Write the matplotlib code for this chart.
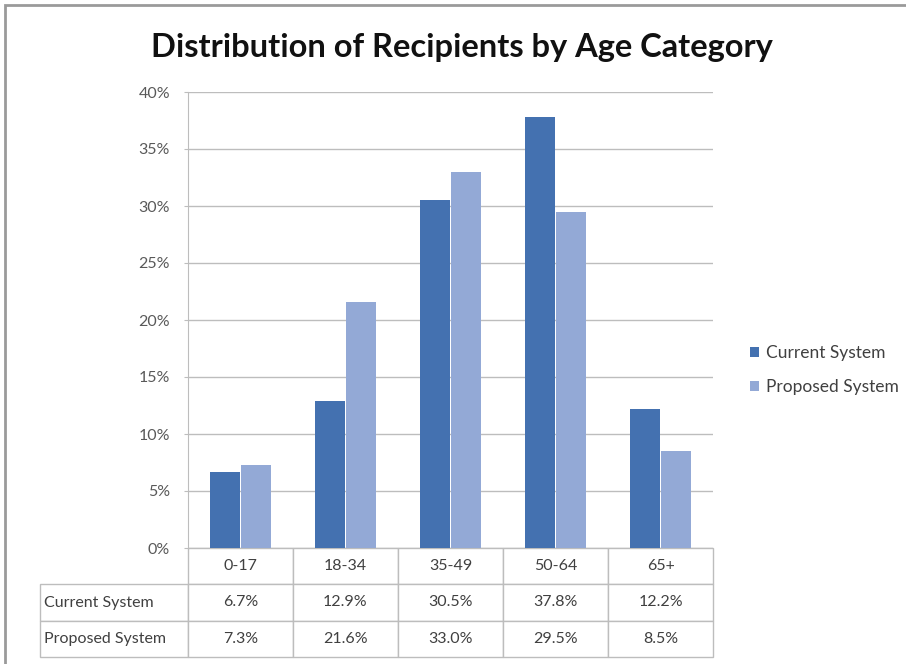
import matplotlib
matplotlib.use("Agg")
import matplotlib.pyplot as plt
from matplotlib.patches import Rectangle

plt.rcParams['font.family'] = ['Lato', 'DejaVu Sans']

categories = ["0-17", "18-34", "35-49", "50-64", "65+"]
current = [6.7, 12.9, 30.5, 37.8, 12.2]
proposed = [7.3, 21.6, 33.0, 29.5, 8.5]
series_names = ["Current System", "Proposed System"]
yticks = [0, 5, 10, 15, 20, 25, 30, 35, 40]
title = "Distribution of Recipients by Age Category"

dark = "#4471B0"
light = "#93A9D6"
grid_c = "#BDBDBD"
text_c = "#404040"

fig = plt.figure(figsize=(9.06, 6.64), dpi=100)
W, H = 906, 664
ax = fig.add_axes([188 / W, 1 - 548 / H, (713 - 188) / W, (548 - 92) / H])

x = [i + 0.5 for i in range(len(categories))]
bw = 0.29
ax.bar([v - 0.148 for v in x], current, width=bw, color=dark, label=series_names[0], zorder=3)
ax.bar([v + 0.148 for v in x], proposed, width=bw, color=light, label=series_names[1], zorder=3)

ax.set_xlim(0, len(categories))
ax.set_ylim(0, 40)
ax.set_yticks(yticks)
ax.set_yticklabels([f"{t}%" for t in yticks], color="#595959", fontsize=11.5)
ax.set_xticks([])
ax.tick_params(axis="y", length=3, color=grid_c, pad=10)
ax.yaxis.grid(True, color=grid_c, linewidth=1, zorder=0)
for s in ["top", "right", "bottom"]:
    ax.spines[s].set_visible(False)
ax.spines["left"].set_color(grid_c)

# data table
rows = [[""] + categories,
        [series_names[0]] + [f"{v:.1f}%" for v in current],
        [series_names[1]] + [f"{v:.1f}%" for v in proposed]]
axw = 713 - 188
axh = 548 - 92
left = (40 - 188) / axw
tab_h = 109 / axh
colw = [148 / axw] + [105 / axw] * len(categories)
tbl = ax.table(cellText=rows, colWidths=colw, cellLoc="center",
               bbox=[left, -tab_h, 1 - left, tab_h])
tbl.auto_set_font_size(False)
for (r, c), cell in tbl.get_celld().items():
    cell.set_edgecolor(grid_c)
    cell.set_linewidth(1)
    cell.get_text().set_fontsize(11.5)
    cell.get_text().set_color(text_c)
    if c == 0:
        cell.PAD = 0.03
        cell.get_text().set_ha("left")
        cell._loc = "left"
    if r == 0 and c == 0:
        cell.visible_edges = ""

leg = ax.legend(loc="center left", bbox_to_anchor=(1.04, 0.39), frameon=False,
                fontsize=12.5, handlelength=0.55, handleheight=0.55,
                handletextpad=0.4, labelspacing=1.05)
for t in leg.get_texts():
    t.set_color(text_c)

fig.text(462 / W, 1 - 48 / H, title, ha="center", va="center",
         fontsize=23.5, fontweight="bold", color="#111111")

fig.add_artist(Rectangle((5 / W, -0.01), 1.0, 1 - 5 / H + 0.01,
                         transform=fig.transFigure, fill=False,
                         edgecolor="#9A9A9A", linewidth=2))

fig.savefig("out.png", dpi=100)
